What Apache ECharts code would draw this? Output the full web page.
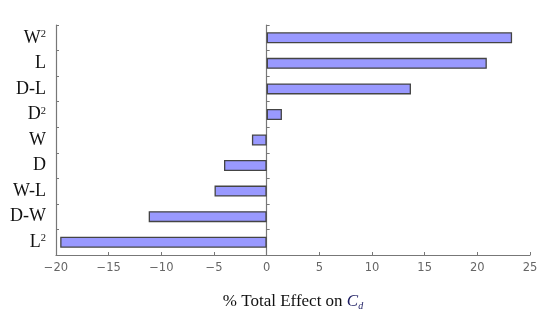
<!DOCTYPE html>
<html><head><meta charset="utf-8">
<script src="https://cdn.jsdelivr.net/npm/echarts@6/dist/echarts.min.js"></script>
<style>html,body{margin:0;padding:0;background:#fff}#c{width:550px;height:321px}</style>
</head><body><div id="c"></div>
<script>
// categories top to bottom; rich-text keys for superscripts
const categories = ['W2', 'L', 'D-L', 'D2', 'W', 'D', 'W-L', 'D-W', 'L2'];
const categoryLabels = ['{b|W}{s|2}', '{b|L}', '{b|D-L}', '{b|D}{s|2}', '{b|W}', '{b|D}', '{b|W-L}', '{b|D-W}', '{b|L}{s|2}'];
const effects = [23.3, 20.9, 13.7, 1.45, -1.4, -4.05, -4.95, -11.2, -19.6];
const xTicks = [-20, -15, -10, -5, 0, 5, 10, 15, 20, 25];

const chart = echarts.init(document.getElementById('c'));
const labelMap = {};
categories.forEach((c, i) => labelMap[c] = categoryLabels[i]);
chart.setOption({
  animation: false,
  grid: {left: 56, right: 20, top: 25, bottom: 66},
  xAxis: {
    type: 'value', min: xTicks[0], max: xTicks[xTicks.length - 1], interval: 5,
    splitLine: {show: false},
    axisLine: {show: true, onZero: false, lineStyle: {color: '#777', width: 1.2}},
    axisTick: {show: true, inside: true, length: 3, lineStyle: {color: '#777'}},
    axisLabel: {color: '#666', fontFamily: 'DejaVu Sans', fontSize: 11.5, margin: 7,
      formatter: v => String(v).replace('-', '\u2212')},
    name: '{t|% Total Effect on }{c|C}{d|d}',
    nameLocation: 'middle', nameGap: 38,
    nameTextStyle: {rich: {
      t: {fontFamily: 'Liberation Serif', fontSize: 17, color: '#111'},
      c: {fontFamily: 'Liberation Serif', fontStyle: 'italic', fontSize: 17, color: '#1a1a60'},
      d: {fontFamily: 'Liberation Serif', fontStyle: 'italic', fontSize: 10, color: '#1a1a60', padding: [8, 0, 0, 0]}
    }}
  },
  yAxis: [{
    type: 'category', data: categories, inverse: true,
    axisLine: {show: true, onZero: false, lineStyle: {color: '#777', width: 1.2}},
    axisTick: {show: true, inside: true, length: 3, lineStyle: {color: '#777'}},
    axisLabel: {margin: 10, formatter: v => labelMap[v], rich: {
      b: {fontFamily: 'Liberation Serif', fontSize: 18, color: '#111'},
      s: {fontFamily: 'Liberation Serif', fontSize: 10.5, color: '#111', padding: [0, 0, 7, 0]}
    }}
  }, {
    type: 'category', data: categories, inverse: true, position: 'left',
    axisLine: {show: true, onZero: true, lineStyle: {color: '#777', width: 1.2}},
    axisTick: {show: true, inside: true, length: 3, lineStyle: {color: '#777'}},
    axisLabel: {show: false}
  }],
  series: [{
    type: 'bar', data: effects, yAxisIndex: 0, barWidth: 11,
    itemStyle: {color: '#9999ff', borderColor: '#444', borderWidth: 1.3}
  }]
});
</script></body></html>
